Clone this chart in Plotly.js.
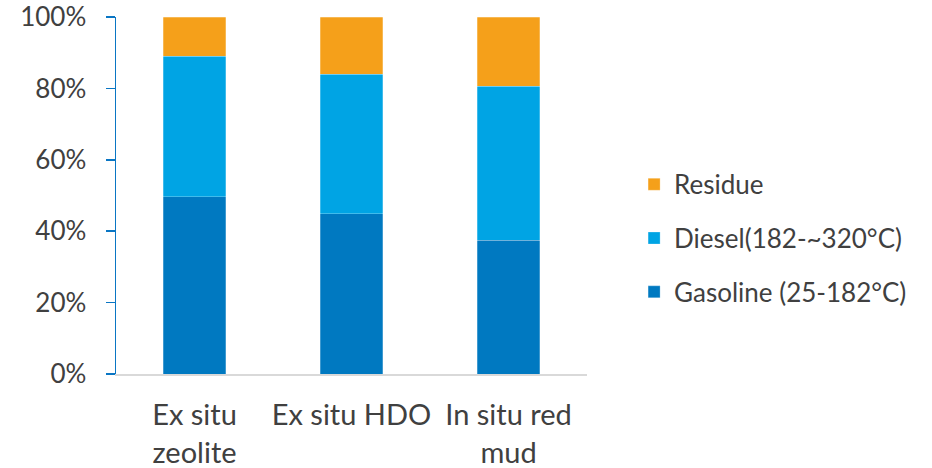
<!DOCTYPE html>
<html><head><meta charset="utf-8">
<script src="https://cdn.plot.ly/plotly-3.0.1.min.js"></script>
<style>html,body{margin:0;padding:0;background:#fff}</style>
</head><body>
<div id="chart" style="width:932px;height:468px"></div>
<script>
const categories = ["Ex situ<br>zeolite", "Ex situ HDO", "In situ red<br>mud"];
const gasoline = [0.497, 0.449, 0.374];
const diesel = [0.393, 0.391, 0.432];
const residue = [0.110, 0.160, 0.194];
const seriesNames = ["Gasoline (25-182°C)", "Diesel(182-~320°C)", "Residue"];
const seriesColors = ["#0079C1", "#00A4E4", "#F5A01A"];
const seriesValues = [gasoline, diesel, residue];
const legendRanks = [3, 2, 1];

const traces = seriesValues.map((v, i) => ({
  type: "bar", x: categories, y: v, name: seriesNames[i], legendgroup: "g" + i,
  legendrank: legendRanks[i],
  marker: {color: seriesColors[i], line: {color: "rgba(255,255,255,0.5)", width: 0.5}},
  width: 0.4
}));

const layout = {
  width: 932, height: 468,
  margin: {l: 116, r: 345, t: 17, b: 94},
  barmode: "stack",
  paper_bgcolor: "#fff", plot_bgcolor: "#fff",
  font: {family: "Lato, 'Open Sans', sans-serif", size: 26, color: "#404040"},
  xaxis: {showline: true, linecolor: "#d9d9d9", linewidth: 1.5, ticks: "", showgrid: false,
          ticklabelstandoff: 15, tickfont: {size: 29, color: "#404040"}},
  yaxis: {range: [0, 1], tickvals: [0, 0.2, 0.4, 0.6, 0.8, 1], tickformat: ".0%",
          showline: true, linecolor: "#0a76c4", linewidth: 1.5, ticks: "outside", ticklen: 9,
          tickcolor: "#0a76c4", tickwidth: 1.5, showgrid: false, zeroline: false,
          ticklabelstandoff: 14, tickfont: {size: 26, color: "#404040"}},
  legend: {x: 1.10, xanchor: "left", y: 0.38, yanchor: "middle", traceorder: "grouped",
           tracegroupgap: 17, font: {size: 26, color: "#404040"}, bgcolor: "rgba(0,0,0,0)"},
  showlegend: true
};
Plotly.newPlot("chart", traces, layout, {displayModeBar: false, staticPlot: true});
</script>
</body></html>
